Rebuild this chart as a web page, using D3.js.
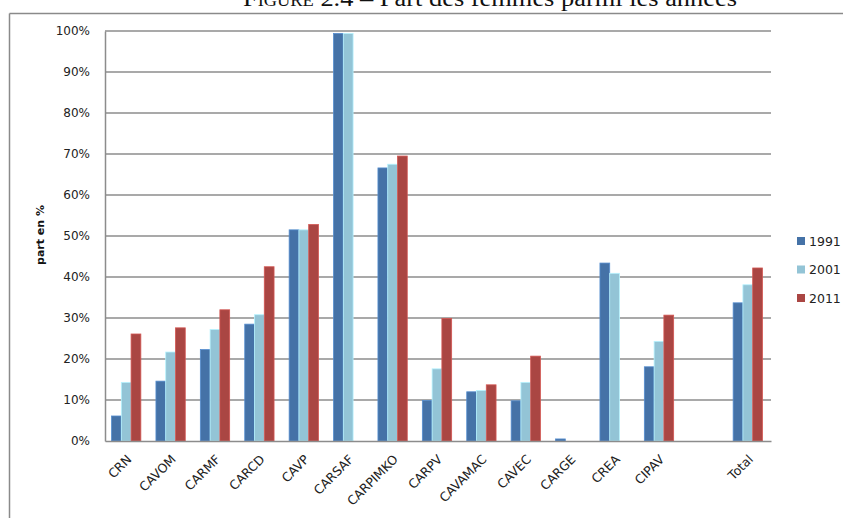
<!DOCTYPE html>
<html>
<head>
<meta charset="utf-8">
<script src="https://cdn.jsdelivr.net/npm/d3@7"></script>
<style>
  html, body { margin: 0; padding: 0; background: #fff; }
  svg { display: block; }
</style>
</head>
<body>
<svg id="chart" width="843" height="518"></svg>
<script>
// Share of women per pension fund, for three census years (%)
const categories = ["CRN", "CAVOM", "CARMF", "CARCD", "CAVP", "CARSAF", "CARPIMKO",
                    "CARPV", "CAVAMAC", "CAVEC", "CARGE", "CREA", "CIPAV", "", "Total"];
const years = ["1991", "2001", "2011"];
const values1991 = [6.1, 14.6, 22.3, 28.5, 51.5, 99.4, 66.6, 9.9, 12.0, 9.8, 0.5, 43.4, 18.1, null, 33.7];
const values2001 = [14.3, 21.7, 27.2, 30.8, 51.5, 99.4, 67.5, 17.6, 12.3, 14.3, 0, 40.9, 24.3, null, 38.1];
const values2011 = [26.1, 27.6, 32.0, 42.5, 52.8, null, 69.5, 29.9, 13.7, 20.7, 0, null, 30.7, null, 42.2];
const yTicks = [0, 10, 20, 30, 40, 50, 60, 70, 80, 90, 100];
const colors = ["#4572a7", "#93c4d6", "#aa4643"];

const series = [values1991, values2001, values2011];
const svg = d3.select("#chart");

// frame around the figure
svg.append("line").attr("x1", 9.5).attr("x2", 843).attr("y1", 13.5).attr("y2", 13.5)
  .attr("stroke", "#8a8a8a").attr("stroke-width", 1.5);
svg.append("line").attr("x1", 9.5).attr("x2", 9.5).attr("y1", 13.5).attr("y2", 518)
  .attr("stroke", "#8a8a8a").attr("stroke-width", 1.5);

// caption (runs off the top edge)
const cap = svg.append("text")
  .attr("x", 490).attr("y", 6)
  .attr("text-anchor", "middle")
  .attr("font-family", "Liberation Serif, DejaVu Serif, serif")
  .attr("font-size", 23)
  .attr("fill", "#111")
  .attr("textLength", 494)
  .attr("lengthAdjust", "spacingAndGlyphs");
cap.append("tspan").attr("font-variant", "small-caps").text("Figure 2.4");
cap.append("tspan").text(" – Part des femmes parmi les années");

const plot = { left: 105, right: 771, top: 31, bottom: 441 };

const x0 = d3.scaleBand().domain(d3.range(categories.length))
  .range([plot.left, plot.right]).paddingInner(0).paddingOuter(0);
const groupW = x0.bandwidth() * 0.66;
const x1 = d3.scaleBand().domain(d3.range(years.length)).range([0, groupW]);
const y = d3.scaleLinear().domain([0, 100]).range([plot.bottom, plot.top]);

// gridlines
svg.append("g").selectAll("line").data(yTicks.filter(t => t > 0)).join("line")
  .attr("x1", plot.left).attr("x2", plot.right)
  .attr("y1", d => y(d)).attr("y2", d => y(d))
  .attr("stroke", "#8c8c8c").attr("stroke-width", 1.5);

// y axis
const yAxis = svg.append("g").attr("transform", `translate(${plot.left},0)`)
  .call(d3.axisLeft(y).tickValues(yTicks).tickSize(0).tickPadding(15).tickFormat(d => d + "%"));
yAxis.select(".domain").attr("stroke", "#8c8c8c").attr("stroke-width", 1.5);
yAxis.selectAll("text").attr("font-family", "DejaVu Sans, sans-serif").attr("font-size", 12).attr("fill", "#222");

// bars
series.forEach((vals, si) => {
  svg.append("g").selectAll("rect")
    .data(vals.map((v, i) => ({ v, i })).filter(d => d.v !== null && d.v > 0))
    .join("rect")
    .attr("x", d => x0(d.i) + (x0.bandwidth() - groupW) / 2 - 1 + x1(si))
    .attr("width", x1.bandwidth())
    .attr("y", d => y(d.v))
    .attr("height", d => y(0) - y(d.v))
    .attr("fill", colors[si])
    .attr("stroke", d3.color(colors[si]).brighter(0.6))
    .attr("stroke-width", 0.8);
});

// x axis
const xAxis = svg.append("g").attr("transform", `translate(0,${plot.bottom})`)
  .call(d3.axisBottom(x0).tickSize(0).tickFormat(i => categories[i]));
xAxis.select(".domain").attr("stroke", "#8c8c8c").attr("stroke-width", 1.5);
xAxis.selectAll("text")
  .attr("font-family", "DejaVu Sans, sans-serif").attr("font-size", 12.5).attr("fill", "#222")
  .attr("text-anchor", "end")
  .attr("dy", 0)
  .attr("transform", "translate(3,17) rotate(-45)");

// y axis title
svg.append("text")
  .attr("transform", "translate(44,235) rotate(-90)")
  .attr("text-anchor", "middle")
  .attr("font-family", "DejaVu Sans, sans-serif").attr("font-weight", "bold")
  .attr("font-size", 11).attr("fill", "#111")
  .text("part en %");

// legend
const leg = svg.append("g").selectAll("g").data(years).join("g")
  .attr("transform", (d, i) => `translate(797,${241 + i * 28.5})`);
leg.append("rect").attr("x", 0).attr("y", -4).attr("width", 8).attr("height", 8)
  .attr("fill", (d, i) => colors[i]);
leg.append("text").attr("x", 12).attr("y", 4.5)
  .attr("font-family", "DejaVu Sans, sans-serif").attr("font-size", 12.5).attr("fill", "#222")
  .text(d => d);
</script>
</body>
</html>
